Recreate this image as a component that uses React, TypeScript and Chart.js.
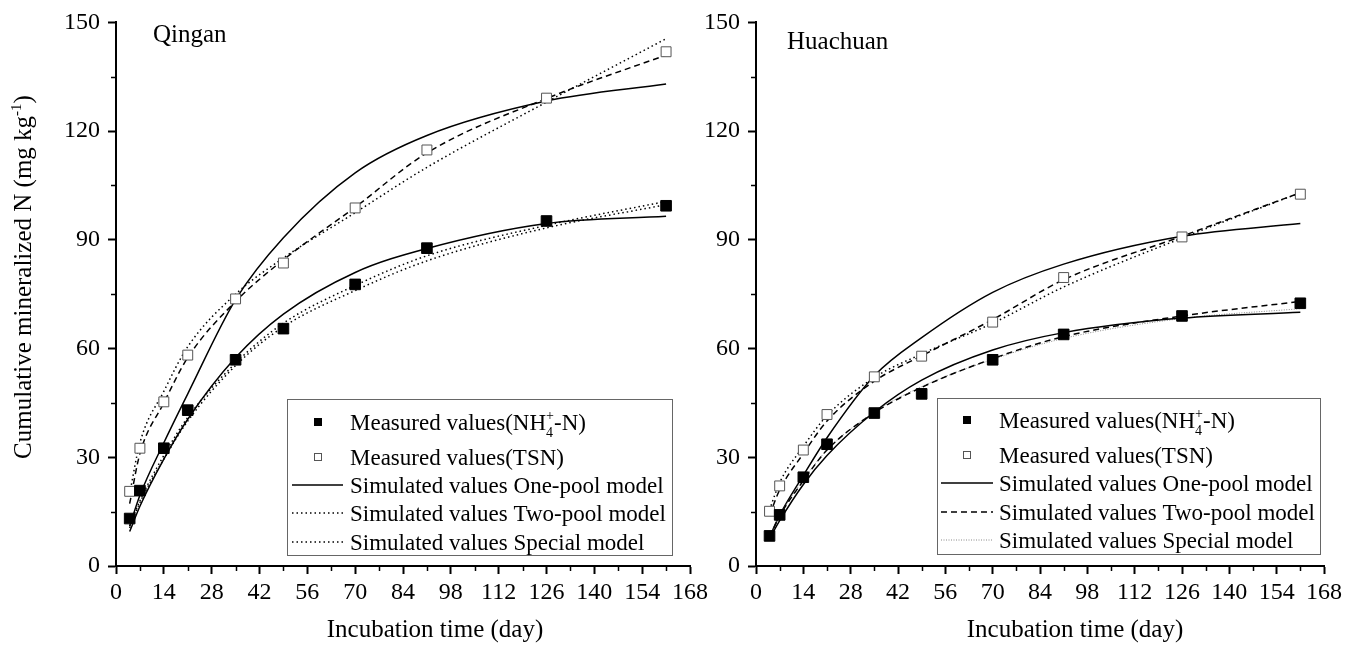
import React, { useEffect, useRef } from "react";
import { Chart, registerables } from "chart.js";

Chart.register(...registerables);

// ---------------- data ----------------
const days = [4, 7, 14, 21, 35, 49, 70, 91, 126, 161];

const qinganNH4Measured = [13.1, 20.8, 32.5, 43.0, 56.9, 65.5, 77.7, 87.7, 95.2, 99.4];
const qinganTSNMeasured = [20.6, 32.5, 45.3, 58.2, 73.7, 83.6, 98.8, 114.8, 129.1, 141.9];
const qinganNH4OnePool = [9.5, 16.5, 29.5, 40.5, 57.5, 69.5, 81.0, 87.6, 94.5, 96.5];
const qinganNH4TwoPool = [11.0, 18.0, 30.5, 41.0, 56.0, 67.0, 77.4, 85.6, 94.0, 100.6];
const qinganNH4Special = [10.5, 17.5, 29.5, 40.0, 55.3, 66.0, 76.0, 84.2, 93.3, 99.7];
const qinganTSNOnePool = [11.0, 19.5, 34.0, 47.5, 73.5, 90.6, 108.5, 118.8, 128.3, 133.0];
const qinganTSNTwoPool = [17.2, 31.0, 45.0, 57.5, 73.0, 84.5, 99.0, 114.0, 129.0, 141.0];
const qinganTSNSpecial = [20.0, 34.0, 48.2, 60.5, 75.0, 85.0, 97.5, 110.0, 128.0, 145.5];

const huachuanNH4Measured = [8.3, 14.1, 24.5, 33.6, 42.2, 47.5, 56.9, 63.9, 69.0, 72.5];
const huachuanTSNMeasured = [15.1, 22.1, 32.0, 41.8, 52.2, 57.9, 67.3, 79.6, 90.8, 102.6];
const huachuanNH4OnePool = [7.5, 12.5, 22.5, 30.5, 42.5, 51.3, 59.6, 64.4, 68.4, 70.0];
const huachuanNH4TwoPool = [8.0, 13.8, 23.5, 32.0, 42.3, 49.3, 57.2, 63.3, 69.0, 73.0];
const huachuanNH4Special = [8.5, 14.0, 23.8, 32.0, 42.5, 49.5, 57.0, 62.8, 68.3, 71.0];
const huachuanTSNOnePool = [8.0, 14.0, 25.0, 35.4, 52.5, 63.0, 75.5, 83.3, 91.0, 94.5];
const huachuanTSNTwoPool = [14.0, 21.0, 31.0, 40.0, 51.0, 58.0, 68.0, 79.0, 91.0, 103.0];
const huachuanTSNSpecial = [15.5, 23.0, 33.0, 41.5, 52.0, 58.5, 67.0, 77.0, 90.5, 103.0];

const xMin = 0;
const xMax = 168;
const xStep = 14;
const yMin = 0;
const yMax = 150;
const yStep = 30;

const legendLabels = [
  "Measured values(NH\u2084\u207A-N)",
  "Measured values(TSN)",
  "Simulated values One-pool model",
  "Simulated values Two-pool model",
  "Simulated values Special model",
];
const xTitle = "Incubation time (day)";
const yTitle = "Cumulative mineralized N (mg kg\u207B\u00B9)";
const panelNames = ["Qingan", "Huachuan"];

// ---------------- helpers ----------------
const FONT = '"Liberation Serif", "Times New Roman", serif';
const SUB: Record<string, string> = { "\u2084": "4" };
const SUP: Record<string, string> = { "\u207A": "+", "\u207B": "-", "\u00B9": "1" };
const isScript = (c: string) => !!(SUB[c] || SUP[c]);

function richSegments(text: string) {
  const segs: { kind: "n" | "s"; text?: string; sub?: string; sup?: string }[] = [];
  let i = 0;
  while (i < text.length) {
    if (isScript(text[i])) {
      let sub = "";
      let sup = "";
      while (i < text.length && isScript(text[i])) {
        if (SUB[text[i]]) sub += SUB[text[i]];
        else sup += SUP[text[i]];
        i++;
      }
      segs.push({ kind: "s", sub, sup });
    } else {
      let run = "";
      while (i < text.length && !isScript(text[i])) {
        run += text[i];
        i++;
      }
      segs.push({ kind: "n", text: run });
    }
  }
  return segs;
}

function measureRich(ctx: CanvasRenderingContext2D, text: string, size: number) {
  let w = 0;
  for (const s of richSegments(text)) {
    if (s.kind === "n") {
      ctx.font = `${size}px ${FONT}`;
      w += ctx.measureText(s.text!).width;
    } else {
      ctx.font = `${Math.round(size * 0.6)}px ${FONT}`;
      w += Math.max(ctx.measureText(s.sub!).width, ctx.measureText(s.sup!).width);
    }
  }
  return w;
}

function drawRich(ctx: CanvasRenderingContext2D, text: string, x: number, y: number, size: number) {
  let cx = x;
  ctx.textAlign = "left";
  ctx.textBaseline = "alphabetic";
  for (const s of richSegments(text)) {
    if (s.kind === "n") {
      ctx.font = `${size}px ${FONT}`;
      ctx.fillText(s.text!, cx, y);
      cx += ctx.measureText(s.text!).width;
    } else {
      ctx.font = `${Math.round(size * 0.6)}px ${FONT}`;
      const w = Math.max(ctx.measureText(s.sub!).width, ctx.measureText(s.sup!).width);
      if (s.sub) ctx.fillText(s.sub, cx, y + size * 0.3);
      if (s.sup) ctx.fillText(s.sup, cx, y - size * 0.42);
      cx += w;
    }
  }
}

const decorPlugin = {
  id: "decor",
  afterDraw(chart: any, _args: any, opts: any) {
    const ctx: CanvasRenderingContext2D = chart.ctx;
    const xs = chart.scales.x;
    const ys = chart.scales.y;
    ctx.save();
    // minor ticks
    ctx.strokeStyle = "#000";
    ctx.lineWidth = 1.5;
    for (let v = xMin + xStep / 2; v < xMax; v += xStep) {
      const px = Math.round(xs.getPixelForValue(v)) + 0.5;
      ctx.beginPath();
      ctx.moveTo(px, ys.bottom);
      ctx.lineTo(px, ys.bottom + 5);
      ctx.stroke();
    }
    for (let v = yMin + yStep / 2; v < yMax; v += yStep) {
      const py = Math.round(ys.getPixelForValue(v)) + 0.5;
      ctx.beginPath();
      ctx.moveTo(xs.left, py);
      ctx.lineTo(xs.left - 5, py);
      ctx.stroke();
    }
    ctx.fillStyle = "#000";
    // panel name
    ctx.font = `25px ${FONT}`;
    ctx.textAlign = "left";
    ctx.textBaseline = "alphabetic";
    ctx.fillText(opts.name, opts.nameX, opts.nameY);
    // x title
    ctx.textAlign = "center";
    ctx.fillText(xTitle, opts.xTitleX, opts.xTitleY);
    // y title
    if (opts.showYTitle) {
      const w = measureRich(ctx, yTitle, 25);
      ctx.save();
      ctx.translate(opts.yTitleX, opts.yTitleY);
      ctx.rotate(-Math.PI / 2);
      drawRich(ctx, yTitle, -w / 2, 0, 25);
      ctx.restore();
    }
    // legend
    const lg = opts.legend;
    ctx.strokeStyle = "#666";
    ctx.lineWidth = 1;
    ctx.strokeRect(lg.x + 0.5, lg.y + 0.5, lg.w, lg.h);
    const ds = chart.data.datasets;
    for (let i = 0; i < 5; i++) {
      const d = ds[i];
      const cy = lg.rows[i];
      if (i < 2) {
        const s = 8;
        ctx.setLineDash([]);
        ctx.fillStyle = d.pointBackgroundColor;
        ctx.fillRect(lg.markerX - s / 2, cy - s / 2, s, s);
        ctx.strokeStyle = d.pointBorderColor;
        ctx.lineWidth = 1;
        ctx.strokeRect(lg.markerX - s / 2 + 0.5, cy - s / 2 + 0.5, s - 1, s - 1);
      } else {
        ctx.strokeStyle = d.borderColor;
        ctx.lineWidth = d.borderWidth;
        ctx.setLineDash(d.borderDash || []);
        ctx.beginPath();
        ctx.moveTo(lg.lineX0, cy);
        ctx.lineTo(lg.lineX1, cy);
        ctx.stroke();
        ctx.setLineDash([]);
      }
      ctx.fillStyle = "#000";
      drawRich(ctx, legendLabels[i], lg.textX, cy + 8, 23);
    }
    ctx.restore();
  },
};

function buildDatasets(
  nh4: number[], tsn: number[],
  nh4One: number[], nh4Two: number[], nh4Spec: number[],
  tsnOne: number[], tsnTwo: number[], tsnSpec: number[],
  styles: any
) {
  const pts = (arr: number[]) => days.map((d, i) => ({ x: d, y: arr[i] }));
  const line = (arr: number[], st: any) => ({
    data: pts(arr),
    showLine: true,
    pointRadius: 0,
    borderColor: st.color,
    borderWidth: st.width,
    borderDash: st.dash,
    cubicInterpolationMode: "monotone",
    fill: false,
  });
  return [
    {
      data: pts(nh4), showLine: false, pointStyle: "rect", pointRadius: 7.5,
      pointBackgroundColor: "#000", pointBorderColor: "#000", pointBorderWidth: 1,
      borderColor: "#000",
    },
    {
      data: pts(tsn), showLine: false, pointStyle: "rect", pointRadius: 7,
      pointBackgroundColor: "#fff", pointBorderColor: "#555", pointBorderWidth: 1,
      borderColor: "#555",
    },
    line(nh4One, styles.one),
    line(nh4Two, styles.nh4Two),
    line(nh4Spec, styles.nh4Spec),
    line(tsnOne, styles.one),
    line(tsnTwo, styles.tsnTwo),
    line(tsnSpec, styles.tsnSpec),
  ];
}

function makeConfig(datasets: any[], yAxisWidth: number, rightPad: number, decor: any) {
  const tickFont = { family: FONT, size: 24 };
  return {
    type: "scatter",
    data: { datasets },
    plugins: [decorPlugin],
    options: {
      responsive: false,
      animation: false,
      devicePixelRatio: 1,
      events: [],
      layout: { padding: { left: 0, right: rightPad, top: 18, bottom: 0 } },
      plugins: {
        legend: { display: false },
        tooltip: { enabled: false },
        decor,
      },
      scales: {
        x: {
          type: "linear",
          min: xMin,
          max: xMax,
          afterFit: (s: any) => { s.height = 81; },
          ticks: { stepSize: xStep, font: tickFont, color: "#000", padding: 4, maxRotation: 0, autoSkip: false },
          grid: { drawOnChartArea: false, drawTicks: true, tickLength: 8, tickWidth: 2, tickColor: "#000" },
          border: { display: true, color: "#000", width: 2 },
        },
        y: {
          type: "linear",
          min: yMin,
          max: yMax,
          afterFit: (s: any) => { s.width = yAxisWidth; },
          ticks: { stepSize: yStep, font: tickFont, color: "#000", padding: 8 },
          grid: { drawOnChartArea: false, drawTicks: true, tickLength: 8, tickWidth: 2, tickColor: "#000" },
          border: { display: true, color: "#000", width: 2 },
        },
      },
    },
  };
}

export default function App() {
  const leftRef = useRef<HTMLCanvasElement | null>(null);
  const rightRef = useRef<HTMLCanvasElement | null>(null);

  useEffect(() => {
    const leftStyles = {
      one: { color: "#000", width: 1.5, dash: [] },
      nh4Two: { color: "#000", width: 1.5, dash: [1.5, 3] },
      nh4Spec: { color: "#000", width: 1.5, dash: [1.5, 3] },
      tsnTwo: { color: "#000", width: 1.5, dash: [6, 4] },
      tsnSpec: { color: "#000", width: 1.5, dash: [1.5, 3] },
    };
    const rightStyles = {
      one: { color: "#000", width: 1.5, dash: [] },
      nh4Two: { color: "#000", width: 1.5, dash: [6, 4] },
      nh4Spec: { color: "#888", width: 1, dash: [1, 1.5] },
      tsnTwo: { color: "#000", width: 1.5, dash: [6, 4] },
      tsnSpec: { color: "#000", width: 1.5, dash: [1.5, 3] },
    };
    const leftDs = buildDatasets(
      qinganNH4Measured, qinganTSNMeasured,
      qinganNH4OnePool, qinganNH4TwoPool, qinganNH4Special,
      qinganTSNOnePool, qinganTSNTwoPool, qinganTSNSpecial, leftStyles
    );
    const rightDs = buildDatasets(
      huachuanNH4Measured, huachuanTSNMeasured,
      huachuanNH4OnePool, huachuanNH4TwoPool, huachuanNH4Special,
      huachuanTSNOnePool, huachuanTSNTwoPool, huachuanTSNSpecial, rightStyles
    );
    const leftChart = new Chart(
      leftRef.current as HTMLCanvasElement,
      makeConfig(leftDs, 116, 30, {
        name: panelNames[0], nameX: 153, nameY: 42,
        xTitleX: 435, xTitleY: 637,
        showYTitle: true, yTitleX: 31, yTitleY: 277,
        legend: {
          x: 287, y: 399, w: 385, h: 156,
          markerX: 318, lineX0: 292, lineX1: 343, textX: 350,
          rows: [422, 457, 485, 513, 542],
        },
      }) as any
    );
    const rightChart = new Chart(
      rightRef.current as HTMLCanvasElement,
      makeConfig(rightDs, 66, 37, {
        name: panelNames[1], nameX: 97, nameY: 49,
        xTitleX: 385, xTitleY: 637,
        showYTitle: false,
        legend: {
          x: 247, y: 398, w: 383, h: 156,
          markerX: 277, lineX0: 251, lineX1: 303, textX: 309,
          rows: [420, 455, 483, 512, 540],
        },
      }) as any
    );
    return () => {
      leftChart.destroy();
      rightChart.destroy();
    };
  }, []);

  return (
    <div style={{ position: "fixed", left: 0, top: 0, width: 1361, height: 647, background: "#fff" }}>
      <canvas ref={leftRef} width={720} height={647} style={{ position: "absolute", left: 0, top: 0 }} />
      <canvas ref={rightRef} width={671} height={647} style={{ position: "absolute", left: 690, top: 0 }} />
    </div>
  );
}
